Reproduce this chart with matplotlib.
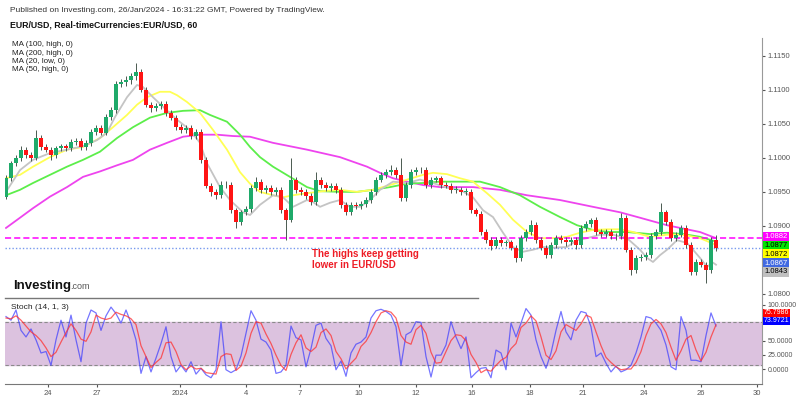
import matplotlib.pyplot as plt
import numpy as np
from matplotlib.lines import Line2D

plt.rcParams['font.family'] = ['Liberation Sans', 'DejaVu Sans']

# EUR/USD, one candle per ~4 trading hours (x = candle index)
FIRST_OPEN = 1.0942
close = [1.0970, 1.0992, 1.1000, 1.1012, 1.1004, 1.1000, 1.1029, 1.1016, 1.1012, 1.1004,
         1.1014, 1.1017, 1.1014, 1.1023, 1.1025, 1.1016, 1.1022, 1.1038, 1.1044, 1.1037,
         1.1060, 1.1070, 1.1109, 1.1111, 1.1114, 1.1120, 1.1126, 1.1100, 1.1078, 1.1073,
         1.1076, 1.1079, 1.1066, 1.1059, 1.1045, 1.1041, 1.1044, 1.1032, 1.1038, 1.0997,
         1.0959, 1.0950, 1.0945, 1.0960, 1.0960, 1.0923, 1.0906, 1.0920, 1.0925, 1.0956,
         1.0965, 1.0953, 1.0956, 1.0950, 1.0953, 1.0923, 1.0909, 1.0968, 1.0953, 1.0950,
         1.0944, 1.0935, 1.0968, 1.0960, 1.0956, 1.0959, 1.0953, 1.0931, 1.0920, 1.0931,
         1.0929, 1.0932, 1.0938, 1.0950, 1.0968, 1.0975, 1.0979, 1.0982, 1.0975, 1.0941,
         1.0960, 1.0979, 1.0982, 1.0982, 1.0960, 1.0968, 1.0970, 1.0960, 1.0959, 1.0953,
         1.0953, 1.0950, 1.0950, 1.0923, 1.0918, 1.0891, 1.0879, 1.0871, 1.0879, 1.0875,
         1.0876, 1.0868, 1.0853, 1.0882, 1.0891, 1.0901, 1.0879, 1.0868, 1.0857, 1.0872,
         1.0882, 1.0879, 1.0876, 1.0879, 1.0872, 1.0897, 1.0903, 1.0909, 1.0891, 1.0888,
         1.0891, 1.0885, 1.0885, 1.0912, 1.0865, 1.0835, 1.0853, 1.0854, 1.0857, 1.0885,
         1.0891, 1.0920, 1.0906, 1.0882, 1.0887, 1.0897, 1.0872, 1.0832, 1.0847, 1.0843,
         1.0835, 1.0879, 1.0867]
high = [1.0975, 1.0996, 1.1004, 1.1018, 1.1016, 1.1008, 1.1041, 1.1033, 1.1020, 1.1016,
        1.1018, 1.1021, 1.1021, 1.1027, 1.1029, 1.1029, 1.1026, 1.1042, 1.1048, 1.1048,
        1.1064, 1.1074, 1.1113, 1.1116, 1.1120, 1.1124, 1.1139, 1.1130, 1.1104, 1.1082,
        1.1080, 1.1084, 1.1083, 1.1070, 1.1063, 1.1049, 1.1048, 1.1048, 1.1042, 1.1042,
        1.1001, 1.0963, 1.0954, 1.0966, 1.0966, 1.0964, 1.0927, 1.0924, 1.0929, 1.0960,
        1.0972, 1.0969, 1.0960, 1.0960, 1.0957, 1.0957, 1.0927, 1.1000, 1.0972, 1.0957,
        1.0954, 1.0948, 1.0979, 1.0972, 1.0964, 1.0963, 1.0963, 1.0957, 1.0935, 1.0935,
        1.0935, 1.0936, 1.0942, 1.0954, 1.0972, 1.0979, 1.0983, 1.0990, 1.0986, 1.1000,
        1.0964, 1.0983, 1.0986, 1.0987, 1.0986, 1.0972, 1.0974, 1.0974, 1.0964, 1.0963,
        1.0958, 1.0957, 1.0955, 1.0954, 1.0927, 1.0922, 1.0895, 1.0883, 1.0883, 1.0883,
        1.0880, 1.0880, 1.0872, 1.0886, 1.0895, 1.0909, 1.0905, 1.0883, 1.0872, 1.0876,
        1.0886, 1.0886, 1.0883, 1.0883, 1.0883, 1.0901, 1.0907, 1.0912, 1.0913, 1.0895,
        1.0895, 1.0895, 1.0890, 1.0919, 1.0916, 1.0869, 1.0857, 1.0858, 1.0861, 1.0889,
        1.0895, 1.0934, 1.0924, 1.0910, 1.0891, 1.0901, 1.0901, 1.0876, 1.0851, 1.0851,
        1.0847, 1.0883, 1.0887]
low = [1.0940, 1.0966, 1.0988, 1.0996, 1.1000, 1.0995, 1.0997, 1.1012, 1.1008, 1.0997,
       1.1000, 1.1010, 1.1010, 1.1010, 1.1019, 1.1012, 1.1012, 1.1018, 1.1034, 1.1033,
       1.1033, 1.1056, 1.1066, 1.1104, 1.1106, 1.1109, 1.1115, 1.1096, 1.1074, 1.1067,
       1.1069, 1.1072, 1.1062, 1.1055, 1.1041, 1.1037, 1.1037, 1.1028, 1.1028, 1.0993,
       1.0955, 1.0944, 1.0940, 1.0941, 1.0955, 1.0919, 1.0897, 1.0902, 1.0916, 1.0921,
       1.0952, 1.0949, 1.0949, 1.0946, 1.0946, 1.0919, 1.0879, 1.0905, 1.0949, 1.0946,
       1.0940, 1.0931, 1.0931, 1.0956, 1.0952, 1.0952, 1.0949, 1.0927, 1.0916, 1.0916,
       1.0925, 1.0925, 1.0928, 1.0934, 1.0946, 1.0964, 1.0971, 1.0975, 1.0971, 1.0937,
       1.0937, 1.0956, 1.0975, 1.0977, 1.0956, 1.0956, 1.0964, 1.0956, 1.0955, 1.0949,
       1.0948, 1.0946, 1.0945, 1.0919, 1.0914, 1.0887, 1.0875, 1.0865, 1.0867, 1.0871,
       1.0871, 1.0864, 1.0847, 1.0849, 1.0878, 1.0887, 1.0875, 1.0864, 1.0853, 1.0853,
       1.0868, 1.0875, 1.0870, 1.0872, 1.0866, 1.0868, 1.0893, 1.0899, 1.0887, 1.0884,
       1.0884, 1.0881, 1.0880, 1.0881, 1.0861, 1.0828, 1.0831, 1.0849, 1.0850, 1.0853,
       1.0881, 1.0887, 1.0902, 1.0878, 1.0878, 1.0883, 1.0868, 1.0828, 1.0828, 1.0839,
       1.0816, 1.0831, 1.0863]

# moving averages (x in candle index units)
ma20_x = [0, 2.8, 5.4, 8.8, 12.2, 15.4, 18.2, 20.2, 21.8, 24.2, 26.2, 27.4, 29.4, 31.4, 34.2,
          36.8, 38.8, 40.2, 42.8, 44.8, 47.4, 48.8, 50.8, 53.4, 55.4, 57.4, 60.2, 61.4, 62.8,
          64.8, 66.8, 68.8, 70.8, 72.8, 74.8, 77.4, 80.2, 82.8, 85.4, 88.2, 90.8, 93.4, 95.4,
          97.4, 99.4, 101.4, 103.4, 105.4, 107.4, 109.4, 112.2, 114.2, 116.2, 118.8, 121.4,
          124.2, 126.8, 128.2, 129.4, 130.8, 132.2, 134.2, 136.2, 137.4, 138.8, 140.2, 141.4, 142]
ma20_low = [1.0950, 1.0982, 1.0997, 1.1007, 1.1012, 1.1017, 1.1026, 1.1037, 1.1060, 1.1089,
            1.1107, 1.1104, 1.1089, 1.1075, 1.1056, 1.1041, 1.1022, 1.0992, 1.0957, 1.0938,
            1.0920, 1.0916, 1.0931, 1.0945, 1.0942, 1.0928, 1.0938, 1.0935, 1.0928, 1.0934,
            1.0938, 1.0928, 1.0928, 1.0938, 1.0953, 1.0965, 1.0963, 1.0968, 1.0963, 1.0956,
            1.0953, 1.0942, 1.0923, 1.0913, 1.0890, 1.0869, 1.0862, 1.0865, 1.0869, 1.0868,
            1.0869, 1.0879, 1.0882, 1.0887, 1.0887, 1.0882, 1.0865, 1.0853, 1.0847, 1.0857,
            1.0865, 1.0879, 1.0875, 1.0865, 1.0853, 1.0840, 1.0846, 1.0843]

ma50_x = [0, 2.8, 5.4, 8.8, 12.2, 15.4, 18.8, 21.4, 24.2, 26.2, 28.2, 30.8, 32.8, 34.2, 36.2,
          38.8, 41.4, 44.2, 46.8, 48.8, 50.8, 53.4, 55.4, 57.4, 60.2, 63.4, 66.8, 70.2, 73.4,
          76.8, 80.2, 83.4, 85.4, 88.2, 90.8, 93.4, 96.2, 98.8, 101.4, 104.2, 106.8, 109.4,
          112.2, 114.8, 117.4, 120.2, 122.8, 125.4, 128.8, 132.2, 135.4, 138.8, 142]
ma50_high = [1.0970, 1.0975, 1.0987, 1.1001, 1.1012, 1.1016, 1.1029, 1.1045, 1.1063, 1.1078,
             1.1089, 1.1097, 1.1097, 1.1092, 1.1082, 1.1066, 1.1041, 1.1012, 1.0979, 1.0962,
             1.0950, 1.0945, 1.0942, 1.0945, 1.0948, 1.0951, 1.0953, 1.0950, 1.0953, 1.0960,
             1.0968, 1.0975, 1.0978, 1.0976, 1.0970, 1.0965, 1.0948, 1.0931, 1.0909, 1.0891,
             1.0882, 1.0882, 1.0884, 1.0890, 1.0894, 1.0895, 1.0895, 1.0891, 1.0884, 1.0887,
             1.0887, 1.0882, 1.0872]

ma100_x = [0, 2.8, 5.4, 8.8, 12.2, 15.4, 18.8, 22.2, 25.4, 28.8, 32.2, 35.4, 38.8, 40.8, 44.2,
           46.8, 48.8, 50.8, 53.4, 56.8, 60.2, 62.8, 66.8, 70.2, 73.4, 76.8, 80.2, 83.4, 86.8,
           90.8, 94.8, 98.8, 102.8, 106.8, 110.8, 114.2, 117.4, 120.8, 124.2, 128.8, 132.2,
           135.4, 138.8, 142]
ma100_high = [1.0945, 1.0953, 1.0963, 1.0975, 1.0987, 1.0997, 1.1009, 1.1029, 1.1045, 1.1059,
              1.1066, 1.1069, 1.1070, 1.1063, 1.1053, 1.1034, 1.1016, 1.1001, 1.0987, 1.0972,
              1.0957, 1.0951, 1.0950, 1.0950, 1.0953, 1.0957, 1.0962, 1.0963, 1.0965, 1.0965,
              1.0965, 1.0957, 1.0945, 1.0928, 1.0913, 1.0901, 1.0894, 1.0891, 1.0891, 1.0888,
              1.0890, 1.0888, 1.0884, 1.0877]

ma200_x = [0, 2.8, 5.4, 8.8, 12.2, 15.4, 18.8, 22.2, 25.4, 28.8, 32.2, 35.4, 38.8, 42.2, 45.4,
           48.8, 53.4, 60.2, 66.8, 72.2, 74.8, 77.4, 80.2, 83.4, 86.8, 93.4, 98.8, 104.2,
           110.8, 117.4, 122.8, 126.8, 132.2, 138.8, 142]
ma200_high = [1.0897, 1.0912, 1.0926, 1.0943, 1.0957, 1.0972, 1.0980, 1.0989, 1.0997, 1.1012,
              1.1022, 1.1031, 1.1034, 1.1034, 1.1032, 1.1031, 1.1022, 1.1012, 1.1001, 1.0987,
              1.0978, 1.0970, 1.0965, 1.0960, 1.0957, 1.0957, 1.0953, 1.0945, 1.0938, 1.0928,
              1.0920, 1.0912, 1.0901, 1.0891, 1.0882]

# Stoch (14, 1, 3), one value per candle
stoch_k = [87, 82, 96, 68, 59, 70, 55, 37, 39, 20, 55, 82, 59, 89, 55, 25, 78, 96, 92, 68,
           88, 100, 91, 78, 96, 78, 55, 9, 32, 11, 30, 50, 73, 32, 11, 20, 11, 25, 8, 16,
           7, 3, 14, 80, 14, 10, 14, 33, 64, 95, 82, 56, 52, 41, 9, 11, 20, 74, 58, 55,
           18, 43, 75, 78, 57, 47, 14, 26, 5, 37, 49, 52, 59, 85, 95, 97, 94, 89, 73, 20,
           62, 66, 80, 79, 32, 4, 34, 34, 48, 80, 59, 43, 59, 3, 10, 16, 17, 3, 41, 37,
           14, 78, 59, 78, 98, 89, 55, 32, 16, 37, 68, 94, 66, 55, 82, 94, 92, 73, 32, 37,
           23, 11, 19, 11, 14, 20, 37, 59, 87, 85, 78, 68, 48, 18, 14, 87, 68, 27, 27, 25,
           61, 92, 73.9721]
stoch_d = [85, 84, 88, 82, 74, 66, 61, 54, 44, 32, 38, 52, 65, 77, 68, 56, 53, 66, 89, 85,
           83, 85, 93, 90, 88, 84, 76, 47, 32, 17, 24, 30, 51, 52, 39, 21, 14, 19, 15, 16,
           10, 9, 8, 32, 36, 35, 13, 19, 37, 64, 80, 78, 63, 50, 34, 20, 13, 35, 51, 62,
           44, 39, 45, 65, 70, 61, 39, 29, 15, 23, 30, 46, 53, 65, 80, 92, 95, 93, 85, 61,
           52, 49, 69, 75, 64, 38, 23, 24, 39, 54, 62, 61, 54, 35, 24, 10, 14, 12, 20, 27,
           31, 43, 50, 72, 78, 88, 81, 59, 34, 28, 40, 66, 76, 72, 68, 77, 89, 86, 66, 47,
           31, 24, 18, 14, 15, 15, 24, 39, 61, 77, 83, 77, 65, 45, 27, 40, 56, 61, 41, 26,
           38, 59, 75.7986]

date_pos = [8.3, 18.2, 34.8, 48, 58.8, 70.6, 82, 93.2, 104.8, 115.4, 127.6, 139, 150.2]
date_labels = ['24', '27', '2024', '4', '7', '10', '12', '16', '18', '21', '24', '26', '30']
price_ticks = [1.080, 1.090, 1.095, 1.100, 1.105, 1.110, 1.115]

close = np.array(close)
high = np.array(high)
low = np.array(low)
opens = np.r_[FIRST_OPEN, close[:-1]]
idx = np.arange(len(close))

W, H = 800, 399
fig = plt.figure(figsize=(W / 100, H / 100), dpi=100)
ax = fig.add_axes([5 / W, 1 - 298 / H, 757 / W, 260 / H])
axs = fig.add_axes([5 / W, 1 - 384 / H, 757 / W, 86 / H], sharex=ax)

AXIS_GREY = '#999999'
TXT_GREY = '#555555'

# price pane
ax.plot(ma200_x, ma200_high, color='#ee44ee', lw=1.3, zorder=2)
ax.plot(ma100_x, ma100_high, color='#5cee4a', lw=1.3, zorder=2)
ax.plot(ma50_x, ma50_high, color='#ffff55', lw=1.3, zorder=2)
ax.plot(ma20_x, ma20_low, color='#c4c4c4', lw=1.3, zorder=2)

ax.axhline(ma200_high[-1], color='#ff00ff', lw=1.1, ls=(0, (4, 2)), zorder=2)
ax.axhline(close[-1], color='#7799ee', lw=1.0, ls=(0, (1, 1.5)), zorder=2)

up = close >= opens
ax.vlines(idx, low, high, color='#4a5a50', lw=0.7, zorder=3)
body = np.maximum(np.abs(close - opens), 0.00006)
ax.bar(idx, body, bottom=np.minimum(close, opens), width=0.72,
       color=np.where(up, '#1faa6a', '#ff1414'), zorder=4)

ax.set_xlim(-0.2, 151.2)
ax.set_ylim(1.07941, 1.11760)
for s in ['left', 'top', 'bottom']:
    ax.spines[s].set_visible(False)
ax.spines['right'].set_color(AXIS_GREY)
ax.yaxis.tick_right()
ax.set_yticks(price_ticks)
ax.set_yticklabels([f'{t:.4f}' for t in price_ticks])
ax.tick_params(axis='y', labelsize=5.5, colors=TXT_GREY, length=2, pad=2)
ax.tick_params(axis='x', bottom=False, labelbottom=False)

ax.text(61.2, 1.0866, 'The highs keep getting\nlower in EUR/USD', color='#ee1c25',
        fontsize=7, fontweight='bold', va='top', ha='left', linespacing=1.1)

# right-hand value tags, stacked from the top one
tags = [(ma200_high[-1], '#ff00ff', 'white'),
        (ma100_high[-1], '#00e600', 'black'),
        (ma50_high[-1], '#ffff00', 'black'),
        (close[-1], '#4169e1', 'white'),
        (ma20_low[-1], '#c0c0c0', 'black')]
for k, (val, bg, fg) in enumerate(tags):
    ax.annotate(f'{val:.4f}', xy=(1, tags[0][0]), xycoords=('axes fraction', 'data'),
                xytext=(1.5, 0.9 - 6.3 * k), textcoords='offset points',
                ha='left', va='center', fontsize=5.5, color=fg, annotation_clip=False,
                bbox=dict(boxstyle='square,pad=0.2', fc=bg, ec='none'))

# stochastic pane
axs.axhspan(20, 80, color='#dcc2df', zorder=1)
for lvl in (20, 80):
    axs.axhline(lvl, color='#8a8a8a', lw=0.8, ls=(0, (3, 2)), zorder=2)
axs.plot(idx, stoch_k, color='#3b3bff', lw=0.9, alpha=0.7, zorder=3)
axs.plot(idx, stoch_d, color='#ff3030', lw=0.9, alpha=0.75, zorder=4)
axs.set_ylim(-5.6, 112.5)
for s in ['left', 'top']:
    axs.spines[s].set_visible(False)
axs.spines['right'].set_color(AXIS_GREY)
axs.spines['bottom'].set_color('#777777')
axs.yaxis.tick_right()
axs.set_yticks([103, 53.6, 34.3, 14.7])
axs.set_yticklabels(['100.0000', '50.0000', '25.0000', '0.0000'])
axs.tick_params(axis='y', labelsize=5, colors=TXT_GREY, length=2, pad=2)
axs.set_xticks(date_pos)
axs.set_xticklabels(date_labels)
axs.tick_params(axis='x', labelsize=5.5, colors=TXT_GREY, length=2, pad=2)

for val, off, bg in [(stoch_d[-1], 8.6, '#ff0000'), (stoch_k[-1], 3.8, '#0000ff')]:
    axs.annotate(f'{val:.4f}', xy=(1, val), xycoords=('axes fraction', 'data'),
                 xytext=(1.5, off), textcoords='offset points', ha='left', va='center',
                 fontsize=5, color='white', annotation_clip=False,
                 bbox=dict(boxstyle='square,pad=0.1', fc=bg, ec='none'))

axs.text(0.008, 0.93, 'Stoch (14, 1, 3)', transform=axs.transAxes, fontsize=6,
         color='#222222', va='top')

# header, legend and logo
fig.text(10 / W, 1 - 11 / H, 'Published on Investing.com, 26/Jan/2024 - 16:31:22 GMT, Powered by TradingView.',
         fontsize=6, color='#333333', va='center')
fig.text(10 / W, 1 - 25 / H, 'EUR/USD, Real-timeCurrencies:EUR/USD, 60',
         fontsize=6.3, fontweight='bold', color='#111111', va='center')
for k, name in enumerate(['MA (100, high, 0)', 'MA (200, high, 0)', 'MA (20, low, 0)', 'MA (50, high, 0)']):
    fig.text(12 / W, 1 - (45 + 8.3 * k) / H, name, fontsize=5.8, color='#222222', va='center')

fig.text(13 / W, 1 - 289 / H, 'Investing', fontsize=9.5, fontweight='bold', color='#111111', va='baseline')
fig.text(70 / W, 1 - 289 / H, '.com', fontsize=6.5, color='#555555', va='baseline')

fig.add_artist(Line2D([5 / W, 478 / W], [1 - 298 / H] * 2, color='#777777', lw=1))

fig.savefig('out.png', dpi=100)
